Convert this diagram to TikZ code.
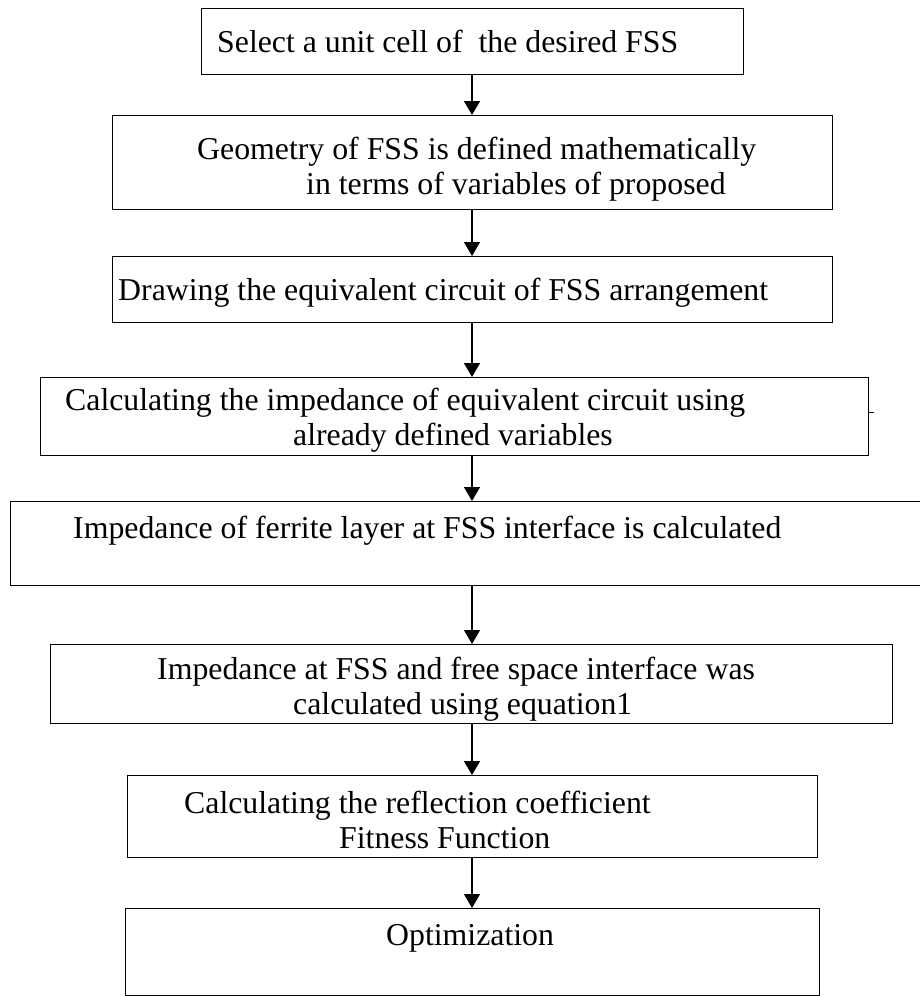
\documentclass[tikz,border=0pt]{standalone}
\usepackage{fontspec}
\setmainfont{Liberation Serif}
\usetikzlibrary{arrows.meta}

\begin{document}
\begin{tikzpicture}[x=1pt,y=-1pt,
	box/.style={draw,line width=1.4pt,inner sep=0pt,anchor=north west},
	txt/.style={anchor=west,inner sep=0pt,align=left,font=\fontsize{31.8}{35}\selectfont},
	arr/.style={line width=1.6pt,-{Triangle[width=16pt,length=14pt]}}]
	\useasboundingbox (0,0) rectangle (920,996);
	\coordinate (spine) at (472,0);

	\node[box,minimum width=542pt,minimum height=66pt] (sel) at (201,8) {};
	\node[txt] (selt) at (217,41) {Select a unit cell of\ \ the desired FSS};

	\node[box,minimum width=720pt,minimum height=94pt] (geo) at (112,115) {};
	\node[txt] (geot) at (197,169) {Geometry of FSS is defined mathematically\\\hspace*{109pt}in terms of variables of proposed};

	\node[box,minimum width=720pt,minimum height=66pt] (drw) at (112,256) {};
	\node[txt] (drwt) at (118,293) {Drawing the equivalent circuit of FSS arrangement};

	\node[box,minimum width=828pt,minimum height=78pt] (imp) at (40,377) {};
	\node[txt] (impt) at (65,420) {Calculating the impedance of equivalent circuit using\\\hspace*{228pt}already defined variables};
	\draw[line width=1pt] ([yshift=4pt]imp.east) -- ++(5,0);

	\node[box,minimum width=920pt,minimum height=84pt] (fer) at (10,501) {};
	\node[txt] (fert) at (73,531) {Impedance of ferrite layer at FSS interface is calculated};

	\node[box,minimum width=842pt,minimum height=79pt] (fss) at (50,644) {};
	\node[txt] (fsst) at (157,689) {Impedance at FSS and free space interface was\\\hspace*{136pt}calculated using equation1};

	\node[box,minimum width=690pt,minimum height=82pt] (refl) at (127,775) {};
	\node[txt] (reflt) at (184,820) {Calculating the reflection coefficient\\\hspace*{155pt}Fitness Function};

	\node[box,minimum width=694pt,minimum height=87pt] (opt) at (125,908) {};
	\node[txt] (optt) at (386,938) {Optimization};

	\draw[arr] (sel.south -| spine) -- (geo.north -| spine);
	\draw[arr] (geo.south -| spine) -- (drw.north -| spine);
	\draw[arr] (drw.south -| spine) -- (imp.north -| spine);
	\draw[arr] (imp.south -| spine) -- (fer.north -| spine);
	\draw[arr] (fer.south -| spine) -- (fss.north -| spine);
	\draw[arr] (fss.south -| spine) -- (refl.north -| spine);
	\draw[arr] (refl.south -| spine) -- (opt.north -| spine);
\end{tikzpicture}
\end{document}
